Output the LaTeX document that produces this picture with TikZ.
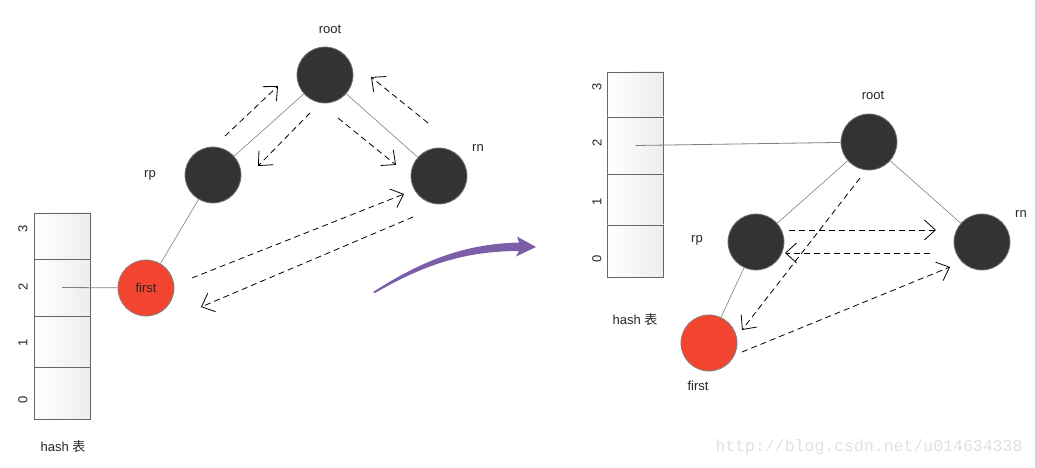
\documentclass[tikz,border=0pt]{standalone}
\usepackage{fontspec}
\setmainfont{Liberation Sans}
\newfontfamily\cjk{Noto Sans CJK SC}
\newfontfamily\wmfont{Liberation Mono}
\usetikzlibrary{arrows.meta}
\definecolor{nodedark}{HTML}{333333}
\definecolor{nodered}{HTML}{F44530}
\definecolor{arrowpurple}{HTML}{7B5EA7}
\definecolor{edgegray}{HTML}{808080}
\tikzset{
  treenode/.style={circle, minimum size=56pt, inner sep=0pt, fill=nodedark, draw=black!55, line width=0.8pt},
  rednode/.style={circle, minimum size=56pt, inner sep=0pt, fill=nodered, draw=black!50, line width=0.8pt, font=\fontsize{13}{15}\selectfont, text=black!85},
  lbl/.style={font=\fontsize{13}{15}\selectfont, text=black!85, inner sep=0pt},
  idx/.style={font=\fontsize{13}{15}\selectfont, text=black!85, rotate=90, inner sep=0pt},
  cell/.style={draw=black!60, line width=0.8pt, left color=white, right color=black!7, inner sep=0pt, minimum width=56pt},
  treeedge/.style={draw=edgegray, line width=0.6pt},
  ptr/.style={draw=black, line width=0.8pt, dash pattern=on 6pt off 4pt, -{Straight Barb[length=11pt,width=20pt,line width=0.8pt]}},
}
\begin{document}
\begin{tikzpicture}[x=1pt,y=-1pt]
\useasboundingbox (0,0) rectangle (1037,468);
\draw[black!18, line width=1.5pt] (1036,0) -- (1036,468);

% ---------- left: hash table ----------
\node[cell, minimum height=46pt] (lh3) at (62,236) {};
\node[cell, minimum height=57pt] (lh2) at (62,287.5) {};
\node[cell, minimum height=51pt] (lh1) at (62,341.5) {};
\node[cell, minimum height=52pt] (lh0) at (62,393) {};
\node[idx] (li3) at (23,229) {3};
\node[idx] (li2) at (23,287) {2};
\node[idx] (li1) at (23,343) {1};
\node[idx] (li0) at (23,400) {0};
\node[lbl] (lhash) at (63,447) {hash {\cjk 表}};

% ---------- left: tree ----------
\node[treenode] (lroot) at (325,75) {};
\node[treenode] (lrp) at (213,175) {};
\node[treenode] (lrn) at (439,176) {};
\node[rednode] (lfirst) at (146,288) {first};
\node[lbl] (lrootl) at (330,29) {root};
\node[lbl] (lrpl) at (150,175) {rp};
\node[lbl] (lrnl) at (478,148) {rn};

\draw[treeedge] (lroot) -- (lrp);
\draw[treeedge] (lroot) -- (lrn);
\draw[treeedge] (lrp) -- (lfirst);
\draw[edgegray, line width=0.8pt] (lh2.center) -- (lfirst);

\coordinate (a1s) at (225,136); \coordinate (a1e) at (278,86);
\coordinate (a2s) at (310,113); \coordinate (a2e) at (258,166);
\coordinate (a3s) at (338,118); \coordinate (a3e) at (396,165);
\coordinate (a4s) at (428,123); \coordinate (a4e) at (371,77);
\coordinate (a5s) at (192,278); \coordinate (a5e) at (404,194);
\coordinate (a6s) at (413,217); \coordinate (a6e) at (201,307);
\draw[ptr] (a1s) -- (a1e);
\draw[ptr] (a2s) -- (a2e);
\draw[ptr] (a3s) -- (a3e);
\draw[ptr] (a4s) -- (a4e);
\draw[ptr] (a5s) -- (a5e);
\draw[ptr] (a6s) -- (a6e);

% ---------- purple arrow ----------
\fill[arrowpurple] (373,292) .. controls (420,262) and (462,244) .. (519,242.5)
  -- (517,236.5) -- (536,247) -- (516,256.5) -- (519,251)
  .. controls (463,251) and (422,266) .. (375,293) -- cycle;

% ---------- right: hash table ----------
\node[cell, minimum height=45pt] (rh3) at (635.5,94.5) {};
\node[cell, minimum height=57pt] (rh2) at (635.5,145.5) {};
\node[cell, minimum height=51pt] (rh1) at (635.5,199.5) {};
\node[cell, minimum height=52pt] (rh0) at (635.5,251) {};
\node[idx] (ri3) at (597,87) {3};
\node[idx] (ri2) at (597,143) {2};
\node[idx] (ri1) at (597,202) {1};
\node[idx] (ri0) at (597,259) {0};
\node[lbl] (rhash) at (635,320) {hash {\cjk 表}};

% ---------- right: tree ----------
\node[treenode] (rroot) at (869,142) {};
\node[treenode] (rrp) at (756,242) {};
\node[treenode] (rrn) at (982,242) {};
\node[rednode] (rfirst) at (709,343) {};
\node[lbl] (rrootl) at (873,95) {root};
\node[lbl] (rrpl) at (697,240) {rp};
\node[lbl] (rrnl) at (1021,214) {rn};
\node[lbl] (rfirstl) at (698,386) {first};

\draw[treeedge] (rroot) -- (rrp);
\draw[treeedge] (rroot) -- (rrn);
\draw[treeedge] (rrp) -- (rfirst);
\draw[edgegray, line width=0.8pt] (rh2.center) -- (rroot);

\coordinate (b1s) at (789,230); \coordinate (b1e) at (936,230);
\coordinate (b2s) at (930,253); \coordinate (b2e) at (785,253);
\coordinate (b3s) at (860,178); \coordinate (b3e) at (742,330);
\coordinate (b4s) at (742,352); \coordinate (b4e) at (950,267);
\draw[ptr] (b1s) -- (b1e);
\draw[ptr] (b2s) -- (b2e);
\draw[ptr] (b3s) -- (b3e);
\draw[ptr] (b4s) -- (b4e);

% watermark
\node[font=\wmfont\fontsize{16.5}{18}\selectfont, text=black!12, inner sep=0pt] (wm) at (869,447) {http://blog.csdn.net/u014634338};
\end{tikzpicture}
\end{document}
